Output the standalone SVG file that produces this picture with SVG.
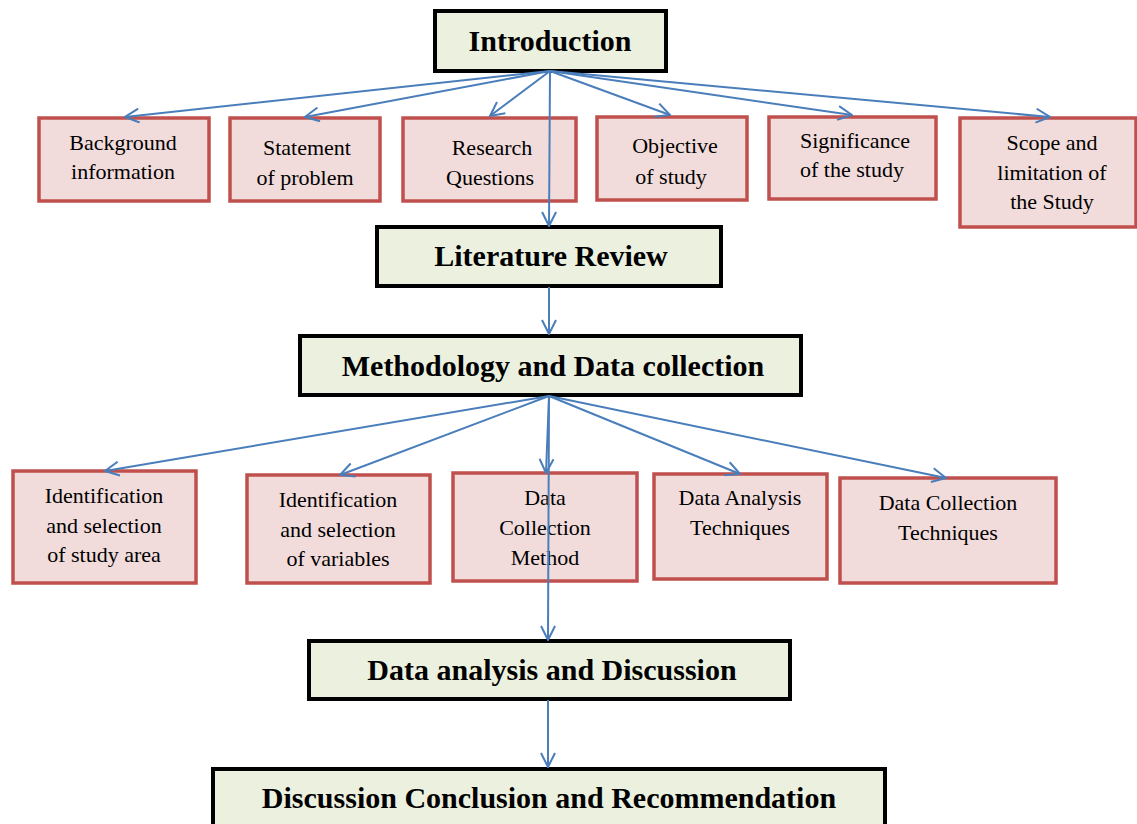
<svg xmlns="http://www.w3.org/2000/svg" width="1137" height="824" viewBox="0 0 1137 824">
<style>
.main{fill:#EBF1DE;stroke:#000;stroke-width:4}
.sub{fill:#F2DCDB;stroke:#C0504D;stroke-width:3.5}
.mt{font-family:"Liberation Serif","Times New Roman",serif;font-weight:bold;font-size:30px;fill:#000;text-anchor:middle}
.st{font-family:"Liberation Serif","Times New Roman",serif;font-size:22px;fill:#000;text-anchor:middle}
.c{fill:none;stroke:#4A7EBB;stroke-width:2;marker-end:url(#arr)}
</style>
<defs>
<marker id="arr" viewBox="0 0 16 16" refX="15" refY="8" markerWidth="16" markerHeight="16" markerUnits="userSpaceOnUse" orient="auto">
<path d="M1,1 L15,8 L1,15" fill="none" stroke="#4A7EBB" stroke-width="2"/>
</marker>
</defs>
<rect width="1137" height="824" fill="#fff"/>
<g id="introduction"><rect class="main" x="435" y="11" width="231" height="60"/><text class="mt" x="550" y="51">Introduction</text></g>
<g id="background"><rect class="sub" x="39" y="118" width="170" height="83"/><text class="st" x="123" y="150">Background</text><text class="st" x="123" y="179">information</text></g>
<g id="statement"><rect class="sub" x="230" y="118" width="150" height="83"/><text class="st" x="307" y="155">Statement</text><text class="st" x="305" y="185">of problem</text></g>
<g id="research"><rect class="sub" x="403" y="118" width="173" height="83"/><text class="st" x="492" y="155">Research</text><text class="st" x="490" y="185">Questions</text></g>
<g id="objective"><rect class="sub" x="597" y="117" width="150" height="83"/><text class="st" x="675" y="153">Objective</text><text class="st" x="671" y="184">of study</text></g>
<g id="significance"><rect class="sub" x="769" y="117" width="167" height="82"/><text class="st" x="855" y="148">Significance</text><text class="st" x="852" y="177">of the study</text></g>
<g id="scope"><rect class="sub" x="960" y="118" width="176" height="109"/><text class="st" x="1052" y="150">Scope and</text><text class="st" x="1052" y="180">limitation of</text><text class="st" x="1052" y="209">the Study</text></g>
<g id="literature"><rect class="main" x="377" y="227" width="344" height="59"/><text class="mt" x="551" y="266">Literature Review</text></g>
<g id="methodology"><rect class="main" x="300" y="336" width="501" height="59"/><text class="mt" x="553" y="376">Methodology and Data collection</text></g>
<g id="study-area"><rect class="sub" x="13" y="471" width="183" height="112"/><text class="st" x="104" y="503">Identification</text><text class="st" x="104" y="533">and selection</text><text class="st" x="104" y="562">of study area</text></g>
<g id="variables"><rect class="sub" x="247" y="475" width="183" height="108"/><text class="st" x="338" y="507">Identification</text><text class="st" x="338" y="537">and selection</text><text class="st" x="338" y="566">of variables</text></g>
<g id="dc-method"><rect class="sub" x="453" y="473" width="184" height="108"/><text class="st" x="545" y="505">Data</text><text class="st" x="545" y="535">Collection</text><text class="st" x="545" y="565">Method</text></g>
<g id="da-techniques"><rect class="sub" x="654" y="474" width="173" height="105"/><text class="st" x="740" y="505">Data Analysis</text><text class="st" x="740" y="535">Techniques</text></g>
<g id="dc-techniques"><rect class="sub" x="840" y="478" width="216" height="105"/><text class="st" x="948" y="510">Data Collection</text><text class="st" x="948" y="540">Techniques</text></g>
<g id="data-analysis"><rect class="main" x="309" y="641" width="481" height="58"/><text class="mt" x="552" y="680">Data analysis and Discussion</text></g>
<g id="conclusion"><rect class="main" x="213" y="769" width="672" height="70"/><text class="mt" x="549" y="808">Discussion Conclusion and Recommendation</text></g>
<g id="connectors">
<line class="c" x1="550" y1="71" x2="125" y2="117"/>
<line class="c" x1="550" y1="71" x2="305" y2="117"/>
<line class="c" x1="550" y1="71" x2="490" y2="116"/>
<line class="c" x1="550" y1="71" x2="670" y2="115"/>
<line class="c" x1="550" y1="71" x2="852" y2="115"/>
<line class="c" x1="550" y1="71" x2="1050" y2="117"/>
<line class="c" x1="550" y1="71" x2="549" y2="226"/>
<line class="c" x1="549" y1="287" x2="549" y2="334"/>
<line class="c" x1="549" y1="396" x2="105" y2="471"/>
<line class="c" x1="549" y1="396" x2="340" y2="475"/>
<line class="c" x1="549" y1="396" x2="546" y2="473"/>
<line class="c" x1="549" y1="396" x2="740" y2="474"/>
<line class="c" x1="549" y1="396" x2="946" y2="478"/>
<line class="c" x1="549" y1="396" x2="548" y2="640"/>
<line class="c" x1="548" y1="700" x2="548" y2="767"/>
</g>
</svg>
